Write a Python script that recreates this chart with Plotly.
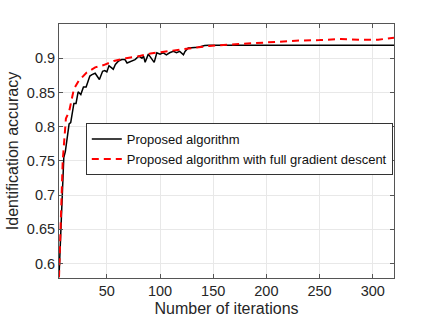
import plotly.graph_objects as go

# black curve: proposed algorithm
iter_prop = [5, 9.5, 11, 14.5, 16, 19, 21, 23, 25.5, 28, 30.5, 34, 36, 39, 43, 46, 48, 50,
             52, 56, 58, 61, 64, 67, 69, 73, 76.5, 80, 83, 84.5, 86, 89, 92, 94.5, 97, 100,
             103, 106, 109, 112.5, 115.5, 118.5, 122, 123.5, 126.5, 131, 136, 142, 146, 320]
acc_prop = [0.580, 0.755, 0.764, 0.804, 0.806, 0.834, 0.834, 0.851, 0.847, 0.858, 0.858, 0.874,
            0.876, 0.878, 0.869, 0.881, 0.882, 0.880, 0.889, 0.884, 0.891, 0.896, 0.898, 0.898,
            0.893, 0.896, 0.898, 0.903, 0.900, 0.903, 0.894, 0.906, 0.899, 0.894, 0.908, 0.906,
            0.908, 0.905, 0.908, 0.910, 0.908, 0.910, 0.905, 0.910, 0.915, 0.915, 0.916, 0.9187,
            0.919, 0.919]

# red dashed curve: with full gradient descent
iter_full = [5, 8.5, 11.5, 14.5, 19, 23.5, 31, 39, 47, 56.5, 68, 80, 91, 107, 113, 130, 146.5,
             177, 195, 214, 233, 250, 270, 290, 305, 320]
acc_full = [0.580, 0.750, 0.812, 0.822, 0.855, 0.867, 0.879, 0.8866, 0.890, 0.896, 0.900, 0.903,
            0.907, 0.910, 0.912, 0.915, 0.918, 0.921, 0.9226, 0.9245, 0.926, 0.9265, 0.928,
            0.927, 0.927, 0.930]

x_ticks = [50, 100, 150, 200, 250, 300]
y_ticks = [0.6, 0.65, 0.7, 0.75, 0.8, 0.85, 0.9]
y_labels = ["0.6", "0.65", "0.7", "0.75", "0.8", "0.85", "0.9"]

fig = go.Figure()
fig.add_trace(go.Scatter(x=iter_prop, y=acc_prop, mode="lines", name="Proposed algorithm",
                         line=dict(color="black", width=1.5)))
fig.add_trace(go.Scatter(x=iter_full, y=acc_full, mode="lines",
                         name="Proposed algorithm with full gradient descent",
                         line=dict(color="red", width=2, dash="7px,5px")))

axis_style = dict(showline=True, linecolor="#555555", linewidth=1, mirror="ticks",
                  ticks="inside", ticklen=4, tickcolor="#555555",
                  showgrid=True, gridcolor="#e8e8e8", zeroline=False,
                  tickfont=dict(size=14.5, color="#262626"))

fig.update_xaxes(range=[5, 320], tickvals=x_ticks,
                 title=dict(text="Number of iterations", font=dict(size=16, color="#262626"),
                            standoff=4),
                 **axis_style)
fig.update_yaxes(range=[0.579, 0.95], tickvals=y_ticks, ticktext=y_labels,
                 title=dict(text="Identification accuracy", font=dict(size=16, color="#262626"),
                            standoff=4),
                 **axis_style)

fig.update_layout(
    width=436, height=327,
    margin=dict(l=57, r=42, t=24, b=45),
    paper_bgcolor="white", plot_bgcolor="white",
    font=dict(family="Liberation Sans, Arial, sans-serif"),
    showlegend=True,
    legend=dict(x=0.08, y=0.61, xanchor="left", yanchor="top",
                bgcolor="white", bordercolor="#333333", borderwidth=1,
                font=dict(size=13, color="#111111"), tracegroupgap=0),
)

# page body has a default 8px margin; drop it so the figure sits at the window corner
fig.write_html("out.html", config={"staticPlot": True, "displayModeBar": False},
               post_script="document.body.style.margin='0';")
